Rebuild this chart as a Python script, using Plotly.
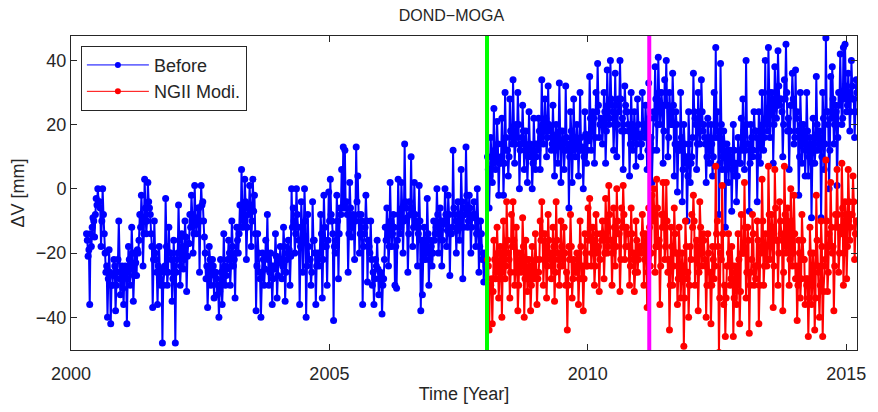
import numpy as np
import plotly.graph_objects as go

# vertical displacement [mm], 16 samples per ~quarter year
blue_pre = [  # 2000.30 -> 2008.05
    -14, -16, -21, -19, -36, -14, -18, -12, -9, -10, -15, -8, -3, -5, 0, -4,
    -4, -6, -18, -10, 0, -8, -14, -20, -26, -24, -40, -28, -19, -26, -42, -30,
    -30, -27, -22, -24, -38, -30, -26, -22, -10, -28, -33, -26, -24, -31, -36, -25,
    -24, -26, -42, -28, -18, -22, -30, -25, -12, -20, -35, -27, -20, -23, -27, -19,
    -20, -16, -8, -12, -2, -9, -24, -14, 3, -6, -14, -10, 2, -4, -6, -8,
    -14, -18, -37, -22, -10, -20, -22, -26, -36, -24, -18, -28, -30, -25, -48, -30,
    -26, -24, -3, -18, -30, -26, -12, -20, -20, -22, -35, -28, -16, -24, -48, -26,
    -22, -20, -5, -16, -30, -24, -14, -18, -25, -22, -10, -15, -32, -21, -17, -17,
    -8, -12, -2, -8, -20, -14, 1, -9, -14, -11, -6, -6, -26, -10, 1, -5,
    -4, -10, -15, -20, -28, -24, -37, -28, -18, -22, -30, -26, -22, -24, -34, -27,
    -26, -28, -33, -30, -40, -32, -22, -26, -36, -29, -14, -24, -30, -27, -25, -22,
    -16, -20, -30, -24, -10, -18, -24, -22, -34, -20, -12, -16, -20, -14, -5, -12,
    6, -6, -12, -10, 3, -4, -22, -12, -6, -8, 1, -5, -18, -10, 3, -7,
    -2, -14, -38, -24, -14, -20, -26, -28, -40, -26, -20, -22, -30, -25, -16, -21,
    -8, -22, -30, -26, -20, -24, -36, -28, -24, -25, -14, -21, -34, -27, -22, -23,
    -18, -22, -28, -24, -12, -18, -35, -26, -22, -20, -16, -19, -30, -21, 0, -12,
    -6, -10, -20, -14, 0, -8, -12, -16, -36, -18, -4, -12, -26, -15, 0, -10,
    -40, -24, -8, -18, -22, -22, -30, -26, -4, -16, -16, -20, -36, -24, -20, -22,
    -24, -20, -8, -14, -34, -22, -2, -12, -18, -18, -30, -16, -1, -10, 3, -8,
    -10, -14, -41, -18, -20, -16, -2, -10, -28, -14, -6, -8, 6, -6, 13, -4,
    12, -6, -4, -8, -26, -14, 2, -6, -15, -12, -8, -9, -22, -10, 13, -4,
    4, -8, -20, -14, -8, -10, -36, -18, -14, -12, -2, -10, -29, -16, -18, -20,
    -10, -22, -30, -26, -36, -28, -22, -24, -16, -25, -33, -28, -26, -27, -39, -30,
    -28, -22, -12, -16, -6, -12, -24, -18, 2, -10, -18, -14, -8, -12, -30, -18,
    -31, -16, 3, -8, -14, -12, 2, -6, -20, -10, 14, -4, -6, -9, -26, -14,
    -4, -8, 10, -6, -18, -12, 2, -8, -10, -12, -24, -14, 1, -10, -38, -16,
    -33, -22, -12, -16, -22, -20, -3, -14, -30, -22, -16, -18, -24, -20, -10, -16,
    -14, -12, 0, -8, -20, -14, -6, -10, -24, -16, -10, -11, 0, -8, -18, -13,
    -2, -8, -27, -14, -14, -12, 12, -6, -8, -10, -20, -13, -4, -8, -16, -12,
    6, -4, -28, -12, -6, -8, 13, -2, -12, -10, -2, -6, -20, -12, -8, -9,
    -4, -8, -18, -14, 0, -10, -26, -18, -10, -14, -22, -20, -29, -22, -20, -24,
]

blue_post = [  # 2008.05 -> 2015.21
    10, 6, -6, 4, 16, 10, 2, 8, 25, 12, 6, 9, 21, 14, -2, 8,
    8, 10, 22, 14, -2, 8, 30, 16, 12, 12, 4, 10, 28, 18, 16, 14,
    34, 18, 8, 14, 20, 16, 30, 20, 0, 12, 14, 16, 26, 18, 6, 14,
    18, 12, 2, 10, 24, 14, 10, 12, 0, 8, 22, 14, 6, 10, 14, 12,
    22, 18, 6, 16, 34, 20, 14, 18, 28, 22, 10, 16, 32, 20, 18, 19,
    12, 14, 26, 16, 4, 12, 20, 17, 8, 14, 33, 18, 2, 13, 18, 15,
    6, 12, 32, 16, 12, 14, -6, 10, 24, 18, 2, 12, 28, 16, 10, 14,
    20, 14, 4, 12, 30, 16, 12, 13, 0, 10, 24, 17, 8, 12, 16, 15,
    35, 22, 12, 18, 24, 22, 8, 16, 30, 24, 39, 26, 16, 20, 22, 21,
    14, 20, 30, 24, 8, 18, 37, 26, 20, 22, 40, 28, 26, 24, 12, 20,
    36, 26, 10, 20, 28, 24, 40, 28, 18, 22, 6, 18, 32, 26, 24, 24,
    20, 18, 4, 14, 30, 20, 12, 16, 24, 18, 7, 14, 28, 20, 16, 17,
    10, 14, 30, 20, 18, 16, 26, 20, 6, 12, 33, 22, 14, 16, 2, 12,
    24, 22, 38, 28, 12, 20, 41, 30, 20, 24, 30, 26, 8, 18, 34, 26,
    40, 26, 10, 16, 30, 24, 20, 20, 36, 26, 4, 14, 24, 20, -1, 12,
    14, 12, 30, 16, -4, 6, 20, 14, 8, 10, -10, 4, 24, 14, 2, 8,
    10, 16, 36, 24, 22, 20, 6, 14, 30, 24, 14, 18, 34, 24, 18, 20,
    16, 14, 2, 10, 22, 16, 8, 12, 20, 14, 4, 10, 30, 16, 44, 18,
    24, 16, -8, 8, 39, 20, 6, 10, 18, 14, -12, 6, 14, 12, 2, 10,
    12, 10, -7, 6, 20, 12, 4, 8, -4, 4, 16, 12, 8, 8, 22, 12,
    28, 18, 6, 12, 40, 20, 14, 14, -7, 8, 20, 16, 10, 12, 24, 18,
    18, 16, -4, 10, 24, 18, 8, 14, 30, 20, 12, 16, 40, 22, 20, 18,
    44, 30, 16, 24, 30, 28, 8, 20, 38, 30, 22, 26, 43, 32, 26, 28,
    28, 24, 10, 20, 34, 28, 45, 30, 18, 22, 6, 18, 26, 26, 36, 28,
    14, 16, 37, 22, 24, 18, -2, 10, 30, 20, 8, 14, 20, 18, 4, 12,
    30, 18, 4, 10, 16, 14, -9, 8, 22, 16, 8, 12, 35, 20, 12, 14,
    18, 16, -9, 10, 30, 22, 6, 14, 47, 24, 24, 20, 0, 12, 35, 22,
    38, 28, 14, 20, 26, 24, 1, 16, 30, 26, 42, 30, 20, 22, 44, 28,
    45, 32, 24, 26, 36, 30, 18, 24, 40, 32, 28, 28, 16, 24, 34, 30,
]

red_post = [  # NGII modified, 2008.05 -> 2015.21
    -22, -24, -44, -30, -30, -28, -42, -32, -16, -22, -28, -26, -12, -20, -34, -28,
    -18, -20, -40, -26, -10, -18, -28, -24, -4, -16, -20, -22, -34, -26, -8, -18,
    -4, -16, -30, -26, -12, -20, -38, -30, -20, -22, -26, -24, -9, -18, -40, -28,
    -16, -22, -32, -28, -22, -24, -38, -30, -18, -24, -28, -27, -14, -22, -36, -28,
    -26, -22, -10, -16, -4, -14, -30, -22, -14, -18, -34, -24, -8, -16, -22, -20,
    -28, -24, -12, -18, -35, -26, -4, -16, -20, -22, -30, -24, -10, -18, -24, -22,
    -12, -20, -30, -26, -44, -30, -18, -22, -8, -18, -34, -28, -22, -24, -26, -26,
    -20, -22, -36, -28, -10, -18, -28, -24, -38, -28, -14, -20, -24, -24, -6, -16,
    -3, -12, -24, -20, -12, -16, -30, -24, -8, -14, -20, -18, -32, -22, -14, -16,
    -10, -14, -28, -20, -3, -10, -20, -18, 1, -8, -16, -16, -30, -20, -6, -12,
    -24, -18, 0, -10, -14, -14, -32, -22, -6, -12, 1, -8, -22, -18, -12, -14,
    -14, -18, -30, -24, -6, -14, -22, -20, -32, -26, -10, -16, -26, -22, -18, -20,
    -20, -18, -8, -14, -30, -22, -14, -16, -37, -26, -6, -12, -24, -20, -2, -10,
    0, -8, -26, -18, 3, -6, -18, -16, -36, -24, -8, -12, 2, -8, -22, -18,
    2, -10, -26, -22, -44, -30, -12, -18, -30, -24, -6, -14, -20, -20, -36, -28,
    -12, -20, -34, -28, -20, -24, -49, -34, -10, -18, -28, -26, -40, -30, -18, -22,
    -8, -12, -2, -10, -30, -22, -16, -18, -38, -26, -4, -12, -24, -20, -14, -16,
    -22, -24, -40, -30, -14, -20, -30, -26, -42, -30, -18, -22, -28, -24, 7, -14,
    -10, -18, -51, -34, -20, -22, 1, -14, -36, -30, -46, -34, -24, -24, -14, -20,
    -30, -28, -18, -24, -46, -34, -24, -26, -36, -30, -14, -22, -42, -32, -8, -20,
    -20, -20, 2, -12, -34, -26, -12, -16, -45, -30, -26, -22, -8, -14, -30, -24,
    -28, -24, -10, -16, -42, -30, -18, -20, 3, -10, -30, -24, -14, -18, -24, -22,
    7, -8, -22, -18, -8, -12, -37, -24, 6, -6, -16, -16, -30, -20, -4, -10,
    -14, -16, -38, -26, 7, -8, -20, -18, -6, -12, -30, -22, 0, -10, -24, -20,
    -2, -14, -28, -24, -41, -30, -16, -20, -34, -28, -8, -16, -22, -22, -36, -28,
    -30, -28, -46, -34, -12, -20, -36, -30, -20, -24, -44, -34, -2, -16, -24, -26,
    -40, -30, -10, -18, -46, -32, -24, -22, 9, -10, -32, -26, -14, -18, 2, -12,
    -20, -18, -38, -24, -8, -12, 6, -8, -26, -20, -12, -14, 8, -6, -30, -20,
    -4, -8, -28, -18, 6, -4, -16, -12, -8, -8, 4, -4, -22, -14, -10, -10,
]

t_first, t_switch, t_last = 2000.30, 2008.05, 2015.21
events = [2008.05, 2011.19]
x_ticks = [2000, 2005, 2010, 2015]
y_ticks = [-40, -20, 0, 20, 40]

t_pre = np.linspace(t_first, t_switch, len(blue_pre), endpoint=False)
t_post = np.linspace(t_switch + 0.01, t_last, len(blue_post))
t_red = np.linspace(t_switch + 0.01, t_last, len(red_post))

font = "Liberation Sans, Arial, Helvetica, sans-serif"
ink = "#262626"
blue, red = "#0000ff", "#ff0000"

fig = go.Figure()
fig.add_trace(go.Scatter(x=np.concatenate([t_pre, t_post]), y=blue_pre + blue_post,
                         mode="lines+markers", showlegend=False,
                         line=dict(color=blue, width=2),
                         marker=dict(color=blue, size=7)))
fig.add_trace(go.Scatter(x=t_red, y=red_post,
                         mode="lines+markers", showlegend=False,
                         line=dict(color=red, width=2),
                         marker=dict(color=red, size=7)))

# legend entries drawn with the thin matlab-style line
for name, col in [("Before", blue), ("NGII Modi.", red)]:
    fig.add_trace(go.Scatter(x=[None], y=[None], mode="lines+markers", name=name,
                             line=dict(color=col, width=1),
                             marker=dict(color=col, size=6)))

# event markers
for ev, col in zip(events, ["#00ff00", "#ff00ff"]):
    fig.add_shape(type="line", xref="x", yref="paper", x0=ev, x1=ev, y0=0, y1=1,
                  line=dict(color=col, width=4), layer="above")

axis_style = dict(showline=True, linecolor=ink, linewidth=1, mirror="ticks",
                  ticks="inside", ticklen=6, tickcolor=ink, showgrid=False,
                  zeroline=False, tickfont=dict(size=18, color=ink))

fig.update_layout(
    width=878, height=412,
    margin=dict(l=71, r=14, t=36, b=51),
    paper_bgcolor="white", plot_bgcolor="white",
    font=dict(family=font, color=ink),
    title=dict(text="DOND\u2212MOGA", x=0.484, xref="paper", xanchor="center",
               y=0.963, yref="container", yanchor="middle",
               font=dict(size=16, color=ink)),
    xaxis=dict(range=[2000, t_last], tickvals=x_ticks, ticklabelstandoff=7,
               title=dict(text="Time [Year]", font=dict(size=18), standoff=4),
               **axis_style),
    yaxis=dict(range=[-50.2, 47.6], tickvals=y_ticks,
               title=dict(text="\u0394V [mm]", font=dict(size=18), standoff=6),
               **axis_style),
    legend=dict(x=0.0126, y=0.969, xanchor="left", yanchor="top",
                bgcolor="white", bordercolor=ink, borderwidth=1,
                font=dict(size=18, color=ink), itemwidth=62,
                tracegroupgap=0),
    showlegend=True,
)

# drop the default 8px body margin so the figure sits at the window's corner
fig.write_html("out.html", config={"displayModeBar": False},
               post_script="document.body.style.margin = '0';")
